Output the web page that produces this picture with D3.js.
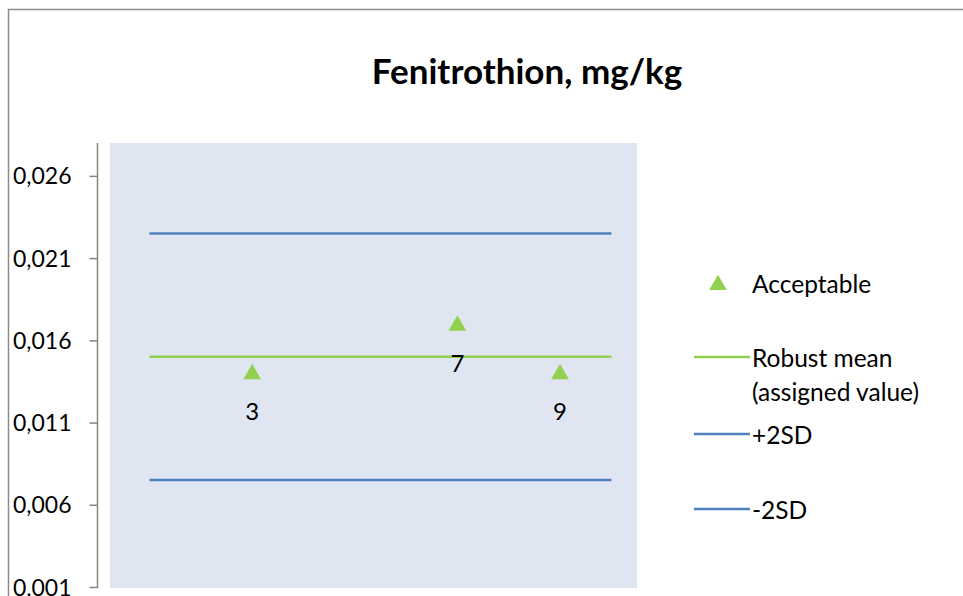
<!DOCTYPE html>
<html>
<head>
<meta charset="utf-8">
<script src="https://cdn.jsdelivr.net/npm/d3@7"></script>
<style>
  body { margin: 0; background: #fff; }
  text { font-family: Lato, "Noto Sans", sans-serif; fill: #000; }
</style>
</head>
<body>
<svg class="chart"></svg>
<script>
// data
let labs = [3, 7, 9];
let results = [0.01395, 0.0169, 0.01395];
let robustMean = 0.0150;
let plus2SD = 0.0225;
let minus2SD = 0.0075;
let lineLabs = [1, 10];
let yTicks = [0.001, 0.006, 0.011, 0.016, 0.021, 0.026];

let width = 963, height = 596;
let plot = { left: 110, right: 637, top: 143, bottom: 588 };

let svg = d3.select(".chart").attr("width", width).attr("height", height);

// outer chart border (cropped at right/bottom)
svg.append("rect")
  .attr("x", 8.5).attr("y", 9.5)
  .attr("width", 980).attr("height", 620)
  .style("fill", "#fff").style("stroke", "#8c8c8c").style("stroke-width", 1.5);

let x = d3.scaleLinear().domain([0.23, 10.5]).range([plot.left, plot.right]);
let y = d3.scaleLinear().domain([0.001, 0.028]).range([plot.bottom - 1, plot.top]);

svg.append("rect")
  .attr("x", plot.left).attr("y", plot.top)
  .attr("width", plot.right - plot.left).attr("height", plot.bottom - plot.top)
  .style("fill", "#dfe6f1");

// y axis
let locale = d3.formatLocale({ decimal: ",", thousands: " ", grouping: [3], currency: ["", ""] });
let yAxis = d3.axisLeft(y).tickValues(yTicks).tickFormat(locale.format(".3f")).tickSize(8).tickPadding(18);
let gy = svg.append("g").attr("transform", translate(97.5, 0)).call(yAxis);
gy.select(".domain").attr("d", "M-0,143V" + plot.bottom).style("stroke", "#868686").style("stroke-width", 1.5);
gy.selectAll(".tick line").style("stroke", "#868686").style("stroke-width", 1.5);
gy.selectAll(".tick text").style("font-size", "23px").style("font-family", "Lato, sans-serif").attr("dy", "0.35em");

// reference lines
let refLines = [
  { v: plus2SD, color: "#4f81bd" },
  { v: robustMean, color: "#92d050" },
  { v: minus2SD, color: "#4f81bd" }
];
svg.selectAll(".ref")
  .data(refLines).enter().append("line")
  .attr("x1", x(lineLabs[0])).attr("x2", x(lineLabs[1]))
  .attr("y1", d => y(d.v)).attr("y2", d => y(d.v))
  .style("stroke", d => d.color).style("stroke-width", 2.5);

// points
let tri = d3.symbol().type(d3.symbolTriangle).size(135);
svg.selectAll(".pt")
  .data(labs).enter().append("path")
  .attr("d", tri)
  .attr("transform", (d, i) => translate(x(d), y(results[i])))
  .style("fill", "#92d050");

svg.selectAll(".lbl")
  .data(labs).enter().append("text")
  .attr("x", d => x(d))
  .attr("y", (d, i) => y(results[i]) + 38)
  .attr("dy", "0.35em")
  .style("text-anchor", "middle")
  .style("font-size", "24px")
  .text(d => d);

// title
svg.append("text")
  .attr("x", 527).attr("y", 72).attr("dy", "0.35em")
  .style("text-anchor", "middle")
  .style("font-size", "35px").style("font-weight", "bold")
  .text("Fenitrothion, mg/kg");

// legend
let lg = svg.append("g");
lg.append("path").attr("d", tri).attr("transform", translate(718, 285)).style("fill", "#92d050");
lg.append("text").attr("x", 752).attr("y", 284).attr("dy", "0.35em").style("font-size", "24.5px").text("Acceptable");

let legendLines = [
  { y: 357, color: "#92d050", lines: ["Robust mean", "(assigned value)"] },
  { y: 434, color: "#4f81bd", lines: ["+2SD"] },
  { y: 509, color: "#4f81bd", lines: ["-2SD"] }
];
legendLines.forEach(function(d) {
  lg.append("line").attr("x1", 694).attr("x2", 750).attr("y1", d.y).attr("y2", d.y)
    .style("stroke", d.color).style("stroke-width", 2.5);
  d.lines.forEach(function(t, i) {
    lg.append("text").attr("x", 752).attr("y", d.y + 1 + i * 34).attr("dy", "0.35em")
      .style("font-size", "24.5px").text(t);
  });
});

function translate(x, y) {
  return "translate(" + x + "," + y + ")";
}
</script>
</body>
</html>
